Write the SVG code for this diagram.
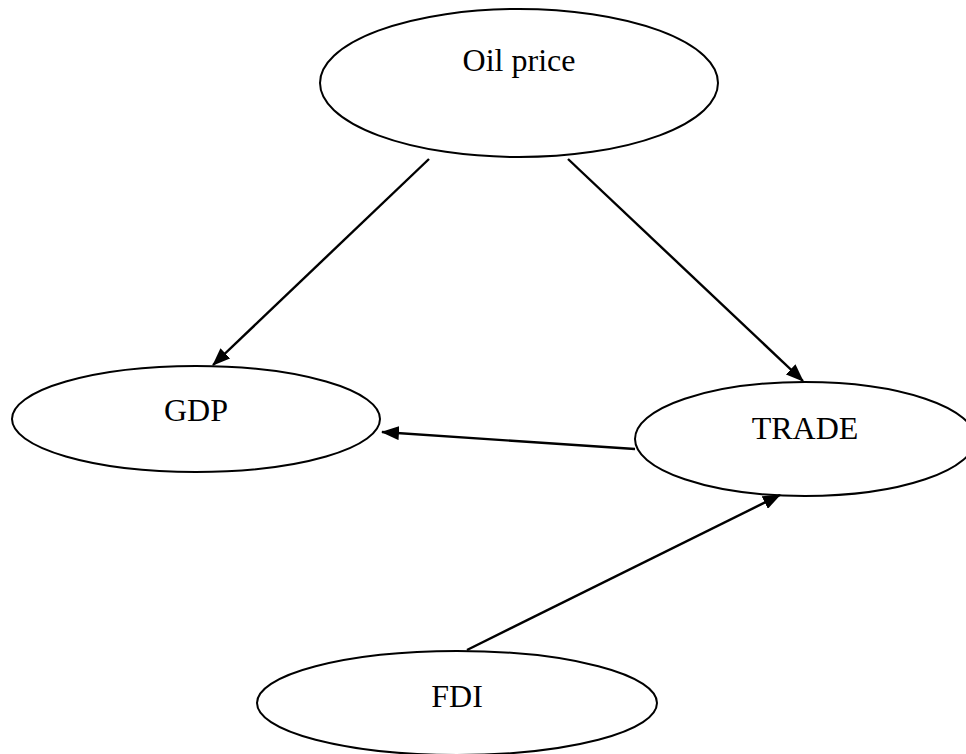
<svg xmlns="http://www.w3.org/2000/svg" width="966" height="754" viewBox="0 0 966 754">
<style>
.node ellipse{fill:#fff;stroke:#000;stroke-width:2}
.node text{font-family:"Liberation Serif","Times New Roman",serif;font-size:32px;fill:#000;text-anchor:middle}
.edge{stroke:#000;stroke-width:2.4;fill:none;marker-end:url(#arr)}
</style>
<defs>
<marker id="arr" markerUnits="userSpaceOnUse" markerWidth="18" markerHeight="14" refX="17" refY="7" orient="auto">
<path d="M0,0 L18,7 L0,14 z" fill="#000"/>
</marker>
</defs>
<rect width="966" height="754" fill="#fff"/>
<g id="oil" class="node"><ellipse cx="519" cy="83" rx="199" ry="74"/><text x="519" y="71">Oil price</text></g>
<g id="gdp" class="node"><ellipse cx="196" cy="419" rx="184" ry="53"/><text x="196" y="421">GDP</text></g>
<g id="trade" class="node"><ellipse cx="805" cy="439" rx="170" ry="57"/><text x="805" y="439">TRADE</text></g>
<g id="fdi" class="node"><ellipse cx="457" cy="703" rx="200" ry="52"/><text x="457" y="707">FDI</text></g>
<g id="connectors">
<line class="edge" x1="429" y1="159" x2="213" y2="365"/>
<line class="edge" x1="568" y1="159" x2="803" y2="381"/>
<line class="edge" x1="635" y1="449" x2="382" y2="432"/>
<line class="edge" x1="467" y1="650" x2="780" y2="495"/>
</g>
</svg>
